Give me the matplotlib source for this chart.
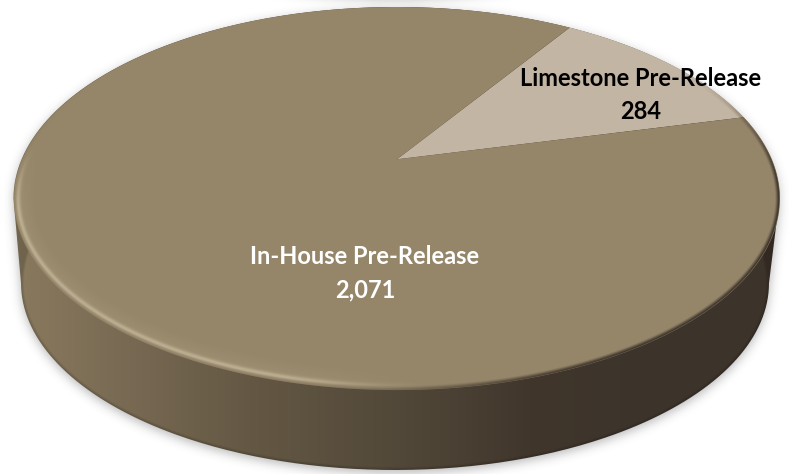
import numpy as np
import matplotlib
matplotlib.use("Agg")
import matplotlib.pyplot as plt
from matplotlib.patches import Polygon, PathPatch
from matplotlib.path import Path

# Pre-release counts by source
segment_labels = ["Limestone Pre-Release", "In-House Pre-Release"]
segment_values = [284, 2071]
segment_colors = ["#C3B5A3", "#95866A"]
label_colors = ["#000000", "#FFFFFF"]
label_xy = [(641, 95), (365, 273)]

W, H = 789, 474
START_DEG = 13.9

# Perspective disc: top face centre, scale and foreshortening
CX, APEX_Y = 397.0, 159.3
TILT = 0.2048
SCALE_X, SCALE_Y = 374.9, 183.5
# Ellipse outlines of the top face and of the base
TOP = (396.5, 198.5, 383.0, 191.5)
BASE = (395.0, 283.0, 374.0, 187.0)

# Horizontal shading of the rim
SIDE_X = [13, 30, 100, 250, 400, 530, 620, 783]
SIDE_R = [140, 135, 124, 100, 82, 64, 61, 60]
SIDE_G = [124, 120, 109, 88, 72, 54, 52, 51]
SIDE_B = [97, 93, 86, 68, 57, 44, 43, 42]


def project(theta):
    """Map angles on the unit disc to pixel positions on the tilted top face."""
    u, v = np.cos(theta), -np.sin(theta)
    w = 1 - TILT * v
    return CX + SCALE_X * u / w, APEX_Y + SCALE_Y * v / w


def wedge(start, sweep):
    t = np.radians(np.linspace(start, start + sweep, 240))
    x, y = project(t)
    return np.column_stack([np.r_[CX, x], np.r_[APEX_Y, y]])


def ellipse_pts(e, t0, t1, n=240):
    t = np.radians(np.linspace(t0, t1, n))
    return np.column_stack([e[0] + e[2] * np.cos(t), e[1] + e[3] * np.sin(t)])


def gaussian(img, sigma):
    """Separable Gaussian blur computed in the frequency domain."""
    fy = np.fft.fftfreq(img.shape[0])[:, None]
    fx = np.fft.rfftfreq(img.shape[1])[None, :]
    kernel = np.exp(-2 * (np.pi * sigma) ** 2 * (fx ** 2 + fy ** 2))
    return np.fft.irfft2(np.fft.rfft2(img) * kernel, s=img.shape)


def smooth(a, lo, hi):
    s = np.clip((a - lo) / (hi - lo), 0, 1)
    return s * s * (3 - 2 * s)


def edge_distance(e):
    """Approximate pixel distance from each pixel to an ellipse, positive inside."""
    r = np.sqrt(((xx - e[0]) / e[2]) ** 2 + ((yy - e[1]) / e[3]) ** 2)
    g = np.sqrt(((xx - e[0]) / e[2] ** 2) ** 2 + ((yy - e[1]) / e[3] ** 2) ** 2) / np.maximum(r, 1e-3)
    return (1 - r) / np.maximum(g, 1e-6)


fig = plt.figure(figsize=(W / 100, H / 100), dpi=100, facecolor="white")
ax = fig.add_axes([0, 0, 1, 1])
ax.set_axis_off()

yy, xx = np.mgrid[0:H, 0:W] + 0.5

# Soft drop shadow under the disc
mask = np.zeros((H, W))
for f in np.linspace(0, 1, 40):
    e = [TOP[i] + (BASE[i] - TOP[i]) * f for i in range(4)]
    r = ((xx - e[0]) / e[2]) ** 2 + ((yy - e[1]) / e[3]) ** 2
    mask = np.maximum(mask, (r <= 1).astype(float))
shadow = gaussian(np.roll(mask, 3, axis=0), 5.0)
shadow_rgba = np.zeros((H, W, 4))
shadow_rgba[..., :3] = 0.25
shadow_rgba[..., 3] = 0.36 * shadow
ax.imshow(shadow_rgba, extent=(0, W, H, 0), zorder=1, interpolation="bilinear")

# Rim with its horizontal light-to-dark shading, a little darker at the lower edge
side = np.stack([
    np.interp(xx, SIDE_X, SIDE_R) / 255,
    np.interp(xx, SIDE_X, SIDE_G) / 255,
    np.interp(xx, SIDE_X, SIDE_B) / 255,
], axis=-1)
base_dist = edge_distance(BASE)
side_lit = side * (1 - 0.18 * (1 - smooth(base_dist, 0, 4)))[..., None]
side_img = ax.imshow(side_lit, extent=(0, W, H, 0), zorder=2, interpolation="bilinear")
outline = np.vstack([ellipse_pts(TOP, 180, 360), ellipse_pts(BASE, 0, 180)])
clip = PathPatch(Path(np.vstack([outline, outline[:1]])), transform=ax.transData,
                 facecolor="none", edgecolor="none")
ax.add_patch(clip)
side_img.set_clip_path(clip)

# Top face slices, swept in proportion to the values
total = sum(segment_values)
angle = START_DEG
for value, color in zip(segment_values, segment_colors):
    sweep = 360 * value / total
    ax.add_patch(Polygon(wedge(angle, sweep), closed=True, facecolor=color,
                         edgecolor="none", zorder=3))
    angle += sweep

# Bevel along the edge of the top face
dist = edge_distance(TOP)
inside = smooth(dist, -0.8, 0.8)

lit = smooth(-(xx - 440), 0, 170) * smooth(yy, 140, 210)
ridge = np.exp(-((dist - 4.5) / 2.6) ** 2) * 0.75 + np.exp(-((dist - 9) / 9.0) ** 2) * 0.12
highlight = ridge * lit

low = smooth(yy, 70, 190)
fall = (1 - smooth(dist, 0.0, 5.0)) * low * (0.35 + 0.65 * smooth(xx, 300, 620))

bevel = np.zeros((H, W, 4))
hi_col = np.array([196, 182, 153]) / 255
alpha = np.maximum(highlight, fall)
mix = (fall / np.maximum(highlight + fall, 1e-6))[..., None]
bevel[..., :3] = hi_col * (1 - mix) + side * mix
bevel[..., 3] = np.clip(alpha, 0, 1) * inside
ax.imshow(bevel, extent=(0, W, H, 0), zorder=4, interpolation="bilinear")

ax.set_xlim(0, W)
ax.set_ylim(H, 0)
ax.set_aspect("auto")

for name, value, color, (tx, ty) in zip(segment_labels, segment_values, label_colors, label_xy):
    ax.text(tx, ty, f"{name}\n{value:,}", ha="center", va="center", color=color,
            fontsize=17, family="Lato", fontweight="bold", linespacing=1.57, zorder=5)

fig.savefig("out.png", dpi=100)
